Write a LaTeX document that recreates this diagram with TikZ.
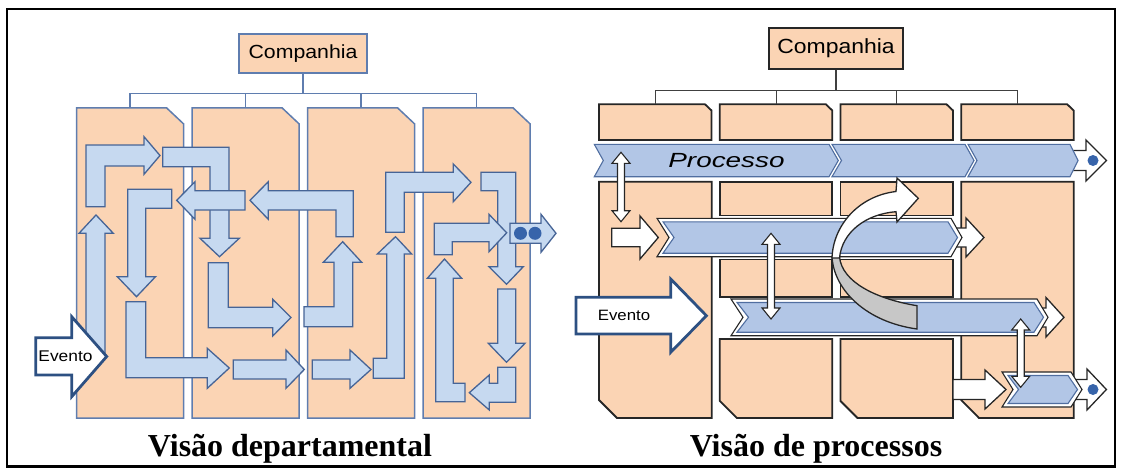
\documentclass[tikz,border=0pt]{standalone}
\usepackage{fontspec}
\setmainfont{Liberation Serif}
\newfontfamily\labelfont[FakeStretch=1.12]{Liberation Sans}
\newfontfamily\widefont[FakeStretch=1.36]{Liberation Sans}
\usepackage{xcolor}
\usepackage{tikz}
\usetikzlibrary{calc}
\definecolor{peach}{RGB}{251,212,180}
\definecolor{deptline}{RGB}{95,125,175}
\definecolor{flowfill}{RGB}{198,217,240}
\definecolor{flowline}{RGB}{70,100,150}
\definecolor{bandfill}{RGB}{178,198,230}
\definecolor{bandline}{RGB}{80,110,160}
\definecolor{dotblue}{RGB}{55,100,170}
\definecolor{eventline}{RGB}{45,80,130}

\begin{document}
\begin{tikzpicture}[x=1pt, y=-1pt, line join=miter,
    dept/.style={fill=peach, draw=deptline, line width=1.5pt},
    cell/.style={fill=peach, draw=black!85, line width=1.8pt},
    flow/.style={fill=flowfill, draw=flowline, line width=1.3pt},
    band/.style={fill=bandfill, draw=bandline, line width=1.1pt},
    bandrim/.style={fill=white, draw=black!85, line width=1.1pt},
    hollow/.style={fill=white, draw=black!85, line width=1.3pt},
    event/.style={fill=white, draw=eventline, line width=2.8pt},
    treeL/.style={draw=deptline, line width=1.5pt},
    treeR/.style={draw=black!75, line width=1.1pt},
    compbox/.style={fill=peach, inner sep=0pt,
        font=\labelfont\fontsize{19}{22}\selectfont},
    caption/.style={anchor=base, font=\fontsize{32}{36}\selectfont\bfseries}]

    \useasboundingbox (0,0) rectangle (1121,468);
    \draw[line width=2.4pt] (7,9) rectangle (1115,466.5);

    %% ================= Visao departamental =================
    \node[compbox, draw=deptline, line width=1.5pt,
          minimum width=128pt, minimum height=39pt] (compL) at (303,53.5) {Companhia};

    %% --- four departments ---
    \foreach \x [count=\i] in {76.7,192.2,307.7,423.2} {
        \draw[dept] (\x,108) -- ({\x+90},108) -- ({\x+107},124) -- ({\x+107},418) -- (\x,418) -- cycle;
        \coordinate (dL\i) at ({\x+53.5},108);
    }
    \foreach \i in {1,...,4}
        \draw[treeL] (compL.south) -- ++(0,20) -| (dL\i);

    %% --- flow arrows ---
    \draw[flow] (86,206.7) -- (86,145) -- (144,145) -- (144,136.7) -- (160,155.5) -- (144,174.3) -- (144,166) -- (105,166) -- (105,206.7) -- cycle;
    \draw[flow] (171.7,189.3) -- (127.7,189.3) -- (127.7,276.7) -- (117.3,276.7) -- (136.5,296.7) -- (155.5,276.7) -- (145.7,276.7) -- (145.7,208.3) -- (171.7,208.3) -- cycle;
    \draw[flow] (162.7,147.3) -- (229,147.3) -- (229,238.3) -- (239.3,238.3) -- (219.5,256.7) -- (200,238.3) -- (210,238.3) -- (210,166.7) -- (162.7,166.7) -- cycle;
    \draw[flow] (245,190.7) -- (195,190.7) -- (195,181.7) -- (176.7,200.3) -- (195,219.3) -- (195,210) -- (245,210) -- cycle;
    \draw[flow] (353.3,236.7) -- (353.3,190.7) -- (268.3,190.7) -- (268.3,181.7) -- (250,200.3) -- (268.3,219.3) -- (268.3,210) -- (336,210) -- (336,236.7) -- cycle;
    \draw[flow] (304,306.7) -- (334,306.7) -- (334,262.3) -- (323.3,262.3) -- (342.7,241.7) -- (361.7,262.3) -- (352.7,262.3) -- (352.7,326.7) -- (304,326.7) -- cycle;
    \draw[flow] (208.3,262.7) -- (228.3,262.7) -- (228.3,307.3) -- (272.7,307.3) -- (272.7,299.3) -- (291,317.5) -- (272.7,336) -- (272.7,327.7) -- (208.3,327.7) -- cycle;
    \draw[flow] (126,301.7) -- (145.7,301.7) -- (145.7,357.7) -- (207.3,357.7) -- (207.3,348.3) -- (229.3,368) -- (207.3,388.3) -- (207.3,377.7) -- (126,377.7) -- cycle;
    \draw[flow] (233.3,360) -- (286,360) -- (286,350) -- (304.3,369.5) -- (286,388.3) -- (286,379) -- (233.3,379) -- cycle;
    \draw[flow] (312.3,360) -- (350,360) -- (350,350) -- (371,369.5) -- (350,388.3) -- (350,379) -- (312.3,379) -- cycle;
    \draw[flow] (373.3,358.3) -- (386.7,358.3) -- (386.7,254) -- (377.3,254) -- (395.5,236.7) -- (411.7,254) -- (404.3,254) -- (404.3,378.3) -- (373.3,378.3) -- cycle;
    \draw[flow] (385.7,232.3) -- (385.7,172.3) -- (453.3,172.3) -- (453.3,164) -- (471,182.3) -- (453.3,201.7) -- (453.3,192.3) -- (404.3,192.3) -- (404.3,232.3) -- cycle;
    \draw[flow] (481,172.3) -- (515.7,172.3) -- (515.7,266.7) -- (523.3,266.7) -- (506.5,284.3) -- (489,266.7) -- (497.7,266.7) -- (497.7,190.7) -- (481,190.7) -- cycle;
    \draw[flow] (434.3,254.7) -- (434.3,223.3) -- (489,223.3) -- (489,214.3) -- (506.7,232.8) -- (489,251.7) -- (489,241.7) -- (452.3,241.7) -- (452.3,254.7) -- cycle;
    \draw[flow] (497.7,289) -- (515.7,289) -- (515.7,343.3) -- (525,343.3) -- (506.5,362.3) -- (488.3,343.3) -- (497.7,343.3) -- cycle;
    \draw[flow] (515.7,367.3) -- (515.7,402.3) -- (489.3,402.3) -- (489.3,410) -- (469.3,392.7) -- (489.3,375) -- (489.3,383.3) -- (497.7,383.3) -- (497.7,367.3) -- cycle;
    \draw[flow] (435.7,401.7) -- (465,401.7) -- (465,383.3) -- (453.3,383.3) -- (453.3,278.3) -- (461.7,278.3) -- (444.5,259) -- (427.3,278.3) -- (435.7,278.3) -- cycle;
    \draw[flow] (86,355) -- (86,233.3) -- (79,233.3) -- (96,215) -- (113.3,233.3) -- (105,233.3) -- (105,355) -- cycle;

    %% exit with two dots
    \draw[flow] (510,223.3) -- (541,223.3) -- (541,214.3) -- (556,233.3) -- (541,252.3) -- (541,243.3) -- (510,243.3) -- cycle;
    \fill[dotblue] (520.5,233.3) circle (6.5pt);
    \fill[dotblue] (535,233.3) circle (6.5pt);

    %% event
    \draw[event] (35.7,337.7) -- (71.7,337.7) -- (71.7,316.7) -- (106.7,356.5) -- (71.7,396.7) -- (71.7,375) -- (35.7,375) -- cycle;
    \node[font=\labelfont\fontsize{15.5}{18}\selectfont, inner sep=0pt] (evtL) at (65.5,356.5) {Evento};

    \node[caption] (capL) at (290,456) {Visão departamental};

    %% ================= Visao de processos =================
    \node[compbox, draw=black!85, line width=1.8pt, font=\labelfont\fontsize{20.5}{24}\selectfont,
          minimum width=134pt, minimum height=41pt] (compR) at (836,48.2) {Companhia};

    \foreach \x [count=\i] in {599,719.8,840.5,961.2} {
        \draw[cell] (\x,104.3) -- ({\x+106},104.3) -- ({\x+112.5},110.5) -- ({\x+112.5},140) -- (\x,140) -- cycle;
        \coordinate (dR\i) at ({\x+56.3},104.3);
    }
    \foreach \i in {1,...,4}
        \draw[treeR] (compR.south) -- ++(0,21.3) -| (dR\i);

    %% --- department columns below the process ---
    \draw[cell] (599,181.7) -- (711.7,181.7) -- (711.7,418) -- (617,418) -- (599,400) -- cycle;
    \foreach \x in {719.8,840.5} {
        \draw[cell] (\x,181.7) rectangle ({\x+112.5},215.5);
        \draw[cell] (\x,259.5) rectangle ({\x+112.5},297);
        \draw[cell] (\x,339) -- ({\x+112.5},339) -- ({\x+112.5},418) -- ({\x+17},418) -- (\x,401) -- cycle;
    }
    \draw[cell] (961.2,181.7) -- (1073.7,181.7) -- (1073.7,418) -- (979,418) -- (961.2,400) -- cycle;

    %% --- Processo band ---
    \draw[hollow] (1065,150.5) -- (1086,150.5) -- (1086,140) -- (1106.4,160.5) -- (1086,181) -- (1086,170.5) -- (1065,170.5) -- cycle;
    \fill[dotblue] (1093,160.5) circle (5.5pt);
    \draw[band] (594.3,144.3) -- (829,144.3) -- (838.3,160.5) -- (829,176.7) -- (594.3,176.7) -- (603.3,160.5) -- cycle;
    \draw[band] (832,144.3) -- (965,144.3) -- (974,160.5) -- (965,176.7) -- (832,176.7) -- (841.5,160.5) -- cycle;
    \draw[band] (968,144.3) -- (1070,144.3) -- (1078,160.5) -- (1070,176.7) -- (968,176.7) -- (977,160.5) -- cycle;
    \node[font=\widefont\itshape\fontsize{20.5}{24}\selectfont, inner sep=0pt] (procT) at (726.5,160.5) {Processo};

    %% --- second process ---
    \draw[hollow] (611.7,228.3) -- (640,228.3) -- (640,216) -- (658.3,237.5) -- (640,259) -- (640,246.7) -- (611.7,246.7) -- cycle;
    \draw[hollow] (945,228) -- (966,228) -- (966,218) -- (984,237.5) -- (966,257) -- (966,247) -- (945,247) -- cycle;
    \draw[bandrim] (657,218.3) -- (951,218.3) -- (962,237.5) -- (951,256.7) -- (657,256.7) -- (669,237.5) -- cycle;
    \draw[band] (663,221.8) -- (948,221.8) -- (957.5,237.5) -- (948,253.2) -- (663,253.2) -- (674,237.5) -- cycle;

    %% --- third process, started by the event ---
    \draw[event] (576,297.3) -- (670.7,297.3) -- (670.7,279) -- (706.4,315.7) -- (670.7,352.3) -- (670.7,334) -- (576,334) -- cycle;
    \node[font=\labelfont\fontsize{15}{18}\selectfont, inner sep=0pt] (evtR) at (624,315.7) {Evento};
    \draw[hollow] (1030,308) -- (1046,308) -- (1046,297.5) -- (1064,317.3) -- (1046,337) -- (1046,327) -- (1030,327) -- cycle;
    \draw[bandrim] (731,299) -- (1037,299) -- (1048,317.3) -- (1037,335.7) -- (731,335.7) -- (743,317.3) -- cycle;
    \draw[band] (737,302.5) -- (1034,302.5) -- (1043.5,317.3) -- (1034,332.2) -- (737,332.2) -- (748.5,317.3) -- cycle;

    %% --- fourth process ---
    \draw[hollow] (953,379.5) -- (985,379.5) -- (985,370) -- (1006,389.5) -- (985,409) -- (985,399.5) -- (953,399.5) -- cycle;
    \draw[hollow] (1065,379.5) -- (1087,379.5) -- (1087,369) -- (1106.4,389.5) -- (1087,410) -- (1087,399.5) -- (1065,399.5) -- cycle;
    \fill[dotblue] (1093,389.5) circle (5.5pt);
    \draw[bandrim] (1002,372) -- (1071,372) -- (1082,389.5) -- (1071,407) -- (1002,407) -- (1013,389.5) -- cycle;
    \draw[band] (1008,375.5) -- (1068,375.5) -- (1077.5,389.5) -- (1068,403.5) -- (1008,403.5) -- (1018.5,389.5) -- cycle;

    %% --- links between processes ---
    \foreach \c/\t/\b in {621/152.3/221.7, 771/233.3/319, 1020.7/319/387.3}
        \draw[hollow, line width=1.1pt] (\c,\t) -- ({\c+9},{\t+11}) -- ({\c+3.5},{\t+11}) -- ({\c+3.5},{\b-11}) -- ({\c+9},{\b-11}) -- (\c,\b) -- ({\c-9},{\b-11}) -- ({\c-3.5},{\b-11}) -- ({\c-3.5},{\t+11}) -- ({\c-9},{\t+11}) -- cycle;

    %% --- turning arrow ---
    \draw[hollow, fill=black!22] (832,257) .. controls (834,290) and (866,322) .. (917,329) -- (917,305.7) .. controls (876,299) and (842,282) .. (839.5,257) -- cycle;
    \draw[hollow] (832,258) .. controls (833,226) and (858,196) .. (896,191.5) -- (897,178) -- (918.3,198.3) -- (897,222) -- (896,211.7) .. controls (866,214) and (842,232) .. (839.5,258) -- cycle;

    \node[caption] (capR) at (816,456) {Visão de processos};

\end{tikzpicture}
\end{document}
